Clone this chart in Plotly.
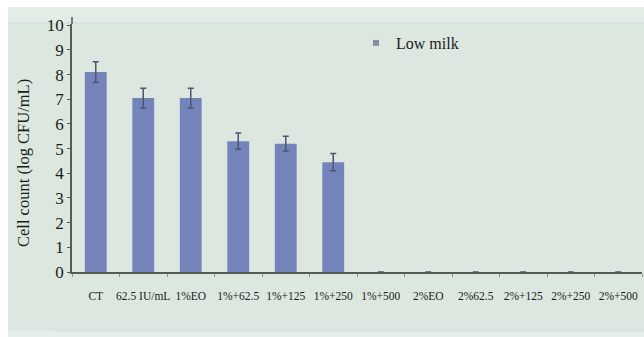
import plotly.graph_objects as go

categories = ["CT", "62.5 IU/mL", "1%EO", "1%+62.5", "1%+125", "1%+250",
              "1%+500", "2%EO", "2%62.5", "2%+125", "2%+250", "2%+500"]
low_milk = [8.1, 7.05, 7.05, 5.3, 5.2, 4.45, 0, 0, 0, 0, 0, 0]
low_milk_err = [0.42, 0.4, 0.4, 0.33, 0.3, 0.35, None, None, None, None, None, None]
y_ticks = list(range(0, 11))

W, H = 644, 337
L, R, T, B = 72, 2, 24, 65
plot_w = W - L - R
plot_h = H - T - B

def px(x):
    return (x - L) / plot_w

def py(y):
    return (H - B - y) / plot_h

bg = "#dce7e0"
bar_color = "#7484ba"
serif = "Liberation Serif"

fig = go.Figure()
fig.add_trace(go.Bar(
    x=categories, y=low_milk, width=0.46,
    marker=dict(color=bar_color, line=dict(width=0)),
    error_y=dict(type="data", array=low_milk_err, visible=True,
                 color="#4b5572", thickness=1.5, width=3),
    showlegend=False,
))
# legend entry with a small square key
fig.add_trace(go.Scatter(
    x=[None], y=[None], mode="markers", name="Low milk",
    marker=dict(symbol="square", size=6, color="#8a90a8"),
))

shapes = [
    # white frame strips around the tinted panel
    dict(type="rect", xref="paper", yref="paper", x0=-0.2, x1=1.1,
         y0=py(7), y1=1.2, fillcolor="white", line_width=0, layer="below"),
    dict(type="rect", xref="paper", yref="paper", x0=-0.2, x1=px(8),
         y0=-0.4, y1=1.2, fillcolor="white", line_width=0, layer="below"),
    # lighter band along the top of the panel
    dict(type="rect", xref="paper", yref="paper", x0=px(8), x1=1.1,
         y0=py(23), y1=py(7), fillcolor="#e3ece6", line_width=0, layer="below"),
    dict(type="line", xref="paper", yref="paper", x0=px(8), x1=1.1,
         y0=py(23), y1=py(23), line=dict(color="#d3ddd6", width=1), layer="below"),
    # lighter strip at the bottom
    dict(type="rect", xref="paper", yref="paper", x0=px(8), x1=1.1,
         y0=-0.4, y1=py(331), fillcolor="#e6eee9", line_width=0, layer="below"),
    dict(type="line", xref="paper", yref="paper", x0=px(55), x1=1.1,
         y0=py(331), y1=py(331), line=dict(color="#cfd9d2", width=1), layer="below"),
    # axis line runs a little past the top tick
    dict(type="line", xref="paper", yref="paper", x0=0, x1=0,
         y0=1.0, y1=py(17), line=dict(color="#555a55", width=1.5)),
]

annotations = [
    dict(text="Cell count (log CFU/mL)", textangle=-90,
         xref="paper", yref="paper", x=px(23), y=py(163),
         xanchor="center", yanchor="middle", showarrow=False,
         font=dict(size=16.5, family=serif, color="#1a1a1a")),
]

fig.update_layout(
    width=W, height=H,
    margin=dict(l=L, r=R, t=T, b=B),
    paper_bgcolor=bg, plot_bgcolor=bg,
    font=dict(family=serif, color="#1a1a1a"),
    shapes=shapes,
    annotations=annotations,
    bargap=0.54,
    showlegend=True,
    legend=dict(x=px(356), y=py(26), xanchor="left", yanchor="top",
                bgcolor="rgba(0,0,0,0)", font=dict(size=16, family=serif),
                itemwidth=30, tracegroupgap=0),
    xaxis=dict(
        type="category", categoryorder="array", categoryarray=categories,
        range=[-0.5, len(categories) - 0.5],
        showline=True, linecolor="#555a55", linewidth=1.5,
        ticks="outside", tickson="boundaries", ticklen=3, tickcolor="#8a918b",
        ticklabelstandoff=12, tickangle=0,
        tickfont=dict(size=11.5, family=serif, color="#1a1a1a"),
        showgrid=False, zeroline=False, fixedrange=True,
    ),
    yaxis=dict(
        range=[0, 10.05], tickvals=y_ticks,
        showline=True, linecolor="#555a55", linewidth=1.5,
        ticks="outside", ticklen=3, tickcolor="#555a55",
        tickfont=dict(size=17, family=serif, color="#1a1a1a"),
        showgrid=False, zeroline=False,
    ),
)

fig.write_html("out.html")
